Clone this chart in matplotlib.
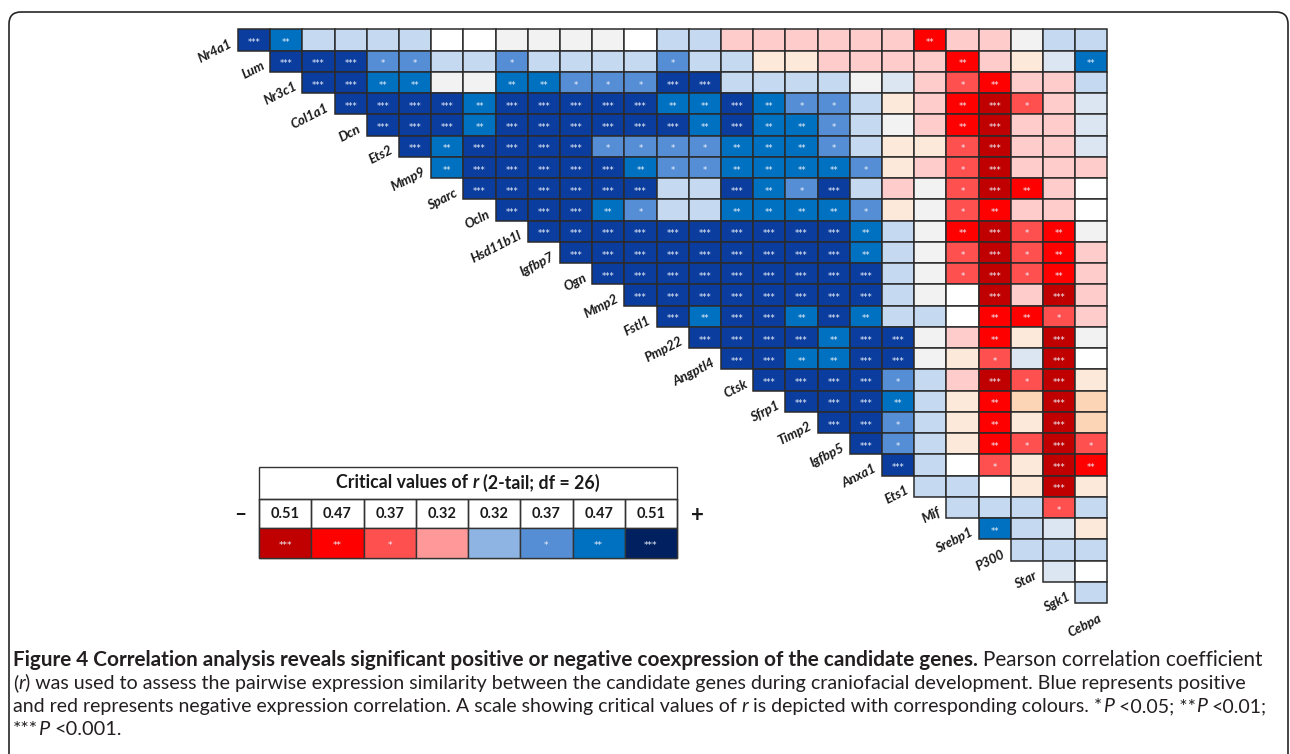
import numpy as np
import matplotlib
matplotlib.use("Agg")
import matplotlib.pyplot as plt
from matplotlib.patches import FancyBboxPatch, Rectangle

W, H, DPI = 1290, 754, 100

# ---------------- data ----------------
genes = ["Nr4a1", "Lum", "Nr3c1", "Col1a1", "Dcn", "Ets2", "Mmp9", "Sparc", "Ocln",
         "Hsd11b1l", "Igfbp7", "Ogn", "Mmp2", "Fstl1", "Pmp22", "Angptl4", "Ctsk",
         "Sfrp1", "Timp2", "Igfbp5", "Anxa1", "Ets1", "Mif", "Srebp1", "P300", "Star",
         "Sgk1", "Cebpa"]

# correlation class of gene i with genes i+1 ... Cebpa (one letter per pair)
# t/s/r = negative ***/**/*, P/O/F/W/G/E/D = non-significant shades, C/B/A = positive */**/***
corr_rows = [
    "ABDDDDWWGGGGWDDPPPPPPsPPGDD",
    "AAACCDDCDDDDCDDFFPPPPsPFEB",
    "AABBGGBBCCCAADDDDGEPrsPPD",
    "AAAABAAAAABBABCCDFPstrPE",
    "AAABAAAAAABABBCDGPstPPE",
    "ABAAAACCCCBBBCDFFrtPPE",
    "BAAAAABCCBBBBCFPrtPPP",
    "AAAAAADDABCADPGrtsPW",
    "AAABCDDBBBBCFGrsPPW",
    "AAAAAAAAAABDGstrsG",
    "AAAAAAAAABDGrtrsP",
    "AAAAAAAAADGrtrsP",
    "AAAAAAAADGWtPtP",
    "ABAABABDDWssrP",
    "AAAABAAGPsFtG",
    "AABBAAGFrEtW",
    "AAAACDPtrtF",
    "AAABDFsOtO",
    "AACDFsFtO",
    "ACDFsrtr",
    "ADWrFts",
    "DDWFtF",
    "DDDrD",
    "BDEF",
    "DDD",
    "EW",
    "D",
]

level_codes = ["t", "s", "r", "P", "O", "F", "W", "G", "E", "D", "C", "B", "A"]
level_colors = ["#c00000", "#ff0000", "#ff5050", "#ffcccc", "#fbd5b5", "#fde9d9",
                "#ffffff", "#f2f2f2", "#dce6f2", "#c5d9f1", "#558ed5", "#0070c0", "#0b3d9f"]
level_stars = ["***", "**", "*", "", "", "", "", "", "", "", "*", "**", "***"]

crit_values = [0.51, 0.47, 0.37, 0.32, 0.32, 0.37, 0.47, 0.51]
legend_colors = ["#c00000", "#ff0000", "#ff5050", "#ff9999", "#8db4e2", "#558ed5", "#0070c0", "#002060"]
legend_stars = ["***", "**", "*", "", "", "*", "**", "***"]

caption_lines = [
    [("Figure 4 Correlation analysis reveals significant positive or negative coexpression of the candidate genes.", "bold", "normal", False),
     ("Pearson correlation coefficient", "normal", "normal", True)],
    [("(", "normal", "normal", False), ("r", "normal", "italic", False),
     (") was used to assess the pairwise expression similarity between the candidate genes during craniofacial development. Blue represents positive", "normal", "normal", False)],
    [("and red represents negative expression correlation. A scale showing critical values of", "normal", "normal", False),
     ("r", "normal", "italic", True),
     ("is depicted with corresponding colours. *", "normal", "normal", True),
     ("P", "normal", "italic", False), ("<0.05; **", "normal", "normal", True),
     ("P", "normal", "italic", False), ("<0.01;", "normal", "normal", True)],
    [("***", "normal", "normal", False), ("P", "normal", "italic", False),
     ("<0.001.", "normal", "normal", True)],
]
caption_line_ends = [1258, 1242, 1262, None]

# ---------------- figure ----------------
LABEL_FONT = "Lato"
CAP_FONT = "Lato"

fig = plt.figure(figsize=(W / DPI, H / DPI), dpi=DPI)
fig.patch.set_facecolor("white")
renderer = fig.canvas.get_renderer()


def fx(px):
    return px / W


def fy(py):
    return 1 - py / H


# frame
bg = fig.add_axes([0, 0, 1, 1])
bg.set_xlim(0, W)
bg.set_ylim(H, 0)
bg.axis("off")
bg.add_patch(FancyBboxPatch((9, 12), 1279, 800, boxstyle="round,pad=0,rounding_size=12",
                            fill=False, ec="#262626", lw=1.2))

# ---------------- matrix ----------------
n = len(genes) - 1
M = np.full((n, n), -1, dtype=int)
for i, row in enumerate(corr_rows):
    for k, ch in enumerate(row):
        M[i, i + k] = level_codes.index(ch)

TOP, ROW_H, LEFT, COL_W = 29.3, 21.25, 238.0, 32.2
ax = fig.add_axes([fx(LEFT), fy(TOP + n * ROW_H), n * COL_W / W, n * ROW_H / H])
ax.set_xlim(0, n)
ax.set_ylim(n, 0)
ax.axis("off")

for i in range(n):
    for j in range(i, n):
        lv = M[i, j]
        ax.add_patch(Rectangle((j, i), 1, 1, fc=level_colors[lv], ec="#2b2b2b", lw=1.1,
                               clip_on=False))
        st = level_stars[lv]
        if st:
            ax.text(j + 0.5, i + 0.5 + 0.25, st, ha="center", va="baseline",
                    fontsize=6, color="#eef3fb", family="DejaVu Sans")

for i, g in enumerate(genes):
    ax.text(i - 0.15, i + 0.82, g, ha="right", va="baseline", rotation=27,
            rotation_mode="anchor", fontsize=9.5, fontweight="bold", fontstyle="italic",
            family=LABEL_FONT, color="#1a1a1a", clip_on=False)

# ---------------- legend table ----------------
LX, LY, LW = 259, 467, 418
rows_h = [0, 32, 61, 91]
lax = fig.add_axes([fx(LX), fy(LY + rows_h[-1]), LW / W, rows_h[-1] / H])
lax.set_xlim(0, 8)
lax.set_ylim(rows_h[-1], 0)
lax.axis("off")
lax.add_patch(Rectangle((0, 0), 8, rows_h[-1], fill=False, ec="#333333", lw=1.0, clip_on=False))
lax.plot([0, 8], [rows_h[1], rows_h[1]], color="#333333", lw=1.0, clip_on=False)
for k, (v, c, s) in enumerate(zip(crit_values, legend_colors, legend_stars)):
    lax.add_patch(Rectangle((k, rows_h[1]), 1, rows_h[2] - rows_h[1], fill=False,
                            ec="#333333", lw=1.0, clip_on=False))
    lax.add_patch(Rectangle((k, rows_h[2]), 1, rows_h[3] - rows_h[2], fc=c,
                            ec="#333333", lw=1.0, clip_on=False))
    lax.text(k + 0.5, (rows_h[1] + rows_h[2]) / 2 + 1, f"{v:.2f}", ha="center", va="center",
             fontsize=10.5, fontweight="bold", family=LABEL_FONT, color="#1a1a1a")
    if s:
        lax.text(k + 0.5, (rows_h[2] + rows_h[3]) / 2 + 5, s, ha="center", va="baseline",
                 fontsize=6.5, color="#eef3fb", family="DejaVu Sans")


def measure(s, size, weight="normal", style="normal", family=CAP_FONT):
    t = fig.text(0, 0, s, fontsize=size, fontweight=weight, fontstyle=style, family=family)
    w = t.get_window_extent(renderer).width
    t.remove()
    return w


def space_w(size, family):
    return measure("a a", size, family=family) - measure("aa", size, family=family)


def runs_width(runs, size, family):
    sp = space_w(size, family)
    w = 0
    for s, wt, stl, gap in runs:
        if gap:
            w += sp
        w += measure(s, size, wt, stl, family)
    return w


def draw_runs(x, y, runs, size, family, color):
    sp = space_w(size, family)
    for s, wt, stl, gap in runs:
        if gap:
            x += sp
        fig.text(fx(x), fy(y), s, fontsize=size, fontweight=wt, fontstyle=stl,
                 family=family, color=color, ha="left", va="baseline")
        x += measure(s, size, wt, stl, family)
    return x


# legend header
header = [("Critical values of", "bold", "normal", False), ("r", "bold", "italic", True),
          ("(2-tail; df = 26)", "bold", "normal", True)]
hs = 11.0
hs *= 262 / runs_width(header, hs, LABEL_FONT)
hw = runs_width(header, hs, LABEL_FONT)
draw_runs(LX + LW / 2 - hw / 2, LY + 21.5, header, hs, LABEL_FONT, "#1a1a1a")

fig.text(fx(240), fy(514), "\u2013", fontsize=15, fontweight="bold", ha="center", va="center",
         family=LABEL_FONT, color="#1a1a1a")
fig.text(fx(697), fy(515), "+", fontsize=16, fontweight="bold", ha="center", va="center",
         family=LABEL_FONT, color="#1a1a1a")

# ---------------- caption ----------------
CAP_X = 13
base = 12.0
sizes = []
for line, end in zip(caption_lines, caption_line_ends):
    if end is None:
        sizes.append(float(np.mean(sizes)))
    else:
        sizes.append(base * (end - CAP_X) / runs_width(line, base, CAP_FONT))
baselines = [666, 689, 712, 735]
for line, yb, sz in zip(caption_lines, baselines, sizes):
    draw_runs(CAP_X, yb, line, sz, CAP_FONT, "#231f20")

fig.savefig("out.png", dpi=DPI, facecolor="white")
